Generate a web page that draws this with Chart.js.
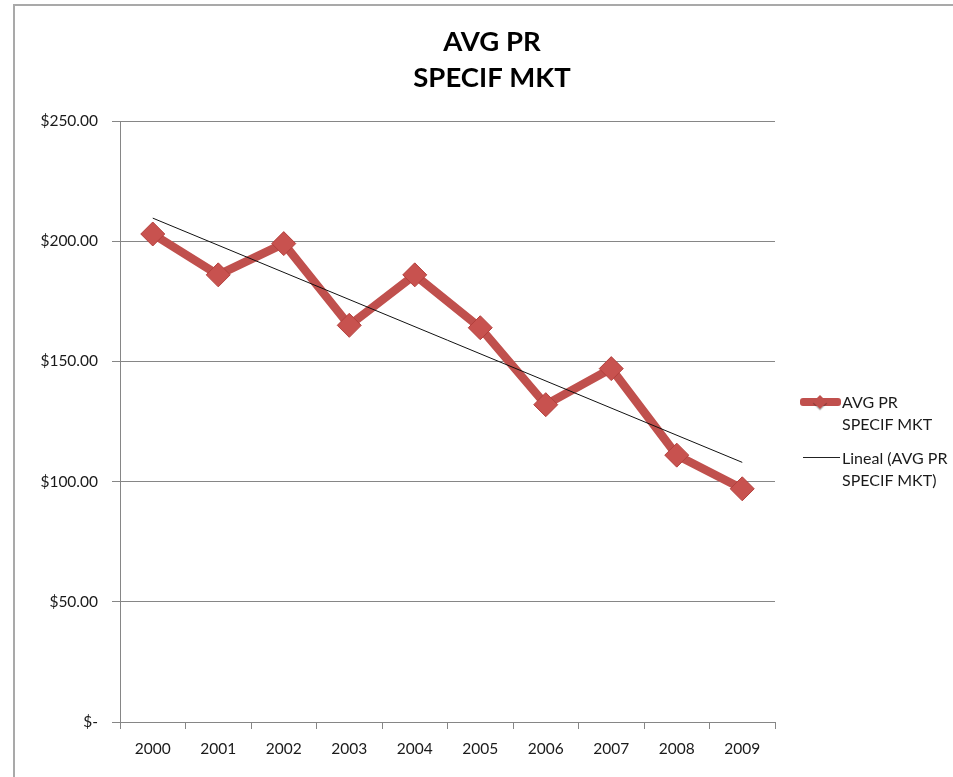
<!DOCTYPE html>
<html><head><meta charset="utf-8">
<script src="https://cdn.jsdelivr.net/npm/chart.js@4.4.1/dist/chart.umd.min.js"></script>
<style>
html,body{margin:0;padding:0;background:#fff;}
#wrap{position:relative;width:953px;height:777px;overflow:hidden;background:#fff;}
#c{position:absolute;left:0;top:0;}
#frame{position:absolute;left:13px;top:4px;width:1000px;height:1000px;border-left:2px solid #a9a9a9;border-top:2px solid #a9a9a9;pointer-events:none;}
.leg{position:absolute;font-family:Lato,'Open Sans',sans-serif;font-size:16px;color:#1a1a1a;line-height:22px;white-space:nowrap;}
.bar{position:absolute;}
</style></head>
<body>
<div id="wrap">
<canvas id="c" width="953" height="777"></canvas>
<div id="frame"></div>
<div class="bar" style="left:800px;top:398px;width:41px;height:8px;background:#c0504d;border-radius:3px;"></div>
<div class="bar" style="left:815px;top:397px;width:10px;height:10px;background:#c0504d;transform:rotate(45deg);box-shadow:1px 1px 1px rgba(0,0,0,.3);"></div>
<div class="leg" style="left:842px;top:391px;">AVG PR<br>SPECIF MKT</div>
<div class="bar" style="left:803px;top:457px;width:37px;height:1px;background:#222;"></div>
<div class="leg" style="left:842px;top:447px;">Lineal (AVG PR<br>SPECIF MKT)</div>
</div>
<script>
const years = ['2000','2001','2002','2003','2004','2005','2006','2007','2008','2009'];
const avgPr = [203, 186, 199, 165, 186, 164, 132, 147, 111, 97];
const trendEnds = [209.6, 108];
const titleLines = ['AVG PR', 'SPECIF MKT'];

const trendData = years.map((_, i) => i === 0 ? trendEnds[0] : (i === years.length - 1 ? trendEnds[1] : null));
const FONT = "Lato, 'Open Sans', sans-serif";

const titlePlugin = {
  id: 'customTitle',
  afterDraw(chart) {
    const ctx = chart.ctx;
    ctx.save();
    ctx.fillStyle = '#000';
    ctx.font = "bold 27.5px " + FONT;
    ctx.textAlign = 'center';
    ctx.textBaseline = 'middle';
    titleLines.forEach((t, i) => ctx.fillText(t, 492, 42 + i * 36));
    ctx.restore();
  }
};

new Chart(document.getElementById('c'), {
  type: 'line',
  data: {
    labels: years,
    datasets: [
      {
        label: 'Lineal (AVG PR SPECIF MKT)',
        data: trendData,
        spanGaps: true,
        borderColor: '#111',
        borderWidth: 1,
        pointRadius: 0,
        order: 0
      },
      {
        label: 'AVG PR SPECIF MKT',
        data: avgPr,
        borderColor: '#c0504d',
        borderWidth: 8.5,
        pointStyle: 'rectRot',
        pointRadius: 12,
        pointBackgroundColor: '#c8524f',
        pointBorderColor: '#b3403d',
        pointBorderWidth: 1,
        borderJoinStyle: 'miter',
        tension: 0,
        order: 1
      }
    ]
  },
  plugins: [titlePlugin],
  options: {
    responsive: false,
    animation: false,
    devicePixelRatio: 1,
    layout: { padding: { left: 0, right: 178, top: 121, bottom: 0 } },
    plugins: {
      legend: { display: false },
      tooltip: { enabled: false },
      title: { display: false }
    },
    scales: {
      x: {
        offset: true,
        grid: { display: true, drawOnChartArea: false, drawTicks: true, tickLength: 7, offset: true, color: '#868686' },
        border: { display: true, color: '#868686', width: 1 },
        ticks: { color: '#1a1a1a', font: { family: FONT, size: 15.5 }, padding: 11, maxRotation: 0 },
        afterFit: s => { s.height = 55; }
      },
      y: {
        min: 0, max: 250,
        grid: { color: '#868686', lineWidth: 1, tickLength: 8, drawTicks: true },
        border: { display: true, color: '#868686', width: 1 },
        ticks: {
          stepSize: 50,
          color: '#1a1a1a',
          font: { family: FONT, size: 15.5 },
          padding: 14,
          callback: v => v === 0 ? '$-' : '$' + Number(v).toFixed(2)
        },
        afterFit: s => { s.width = 120; }
      }
    }
  }
});
</script>
</body></html>
